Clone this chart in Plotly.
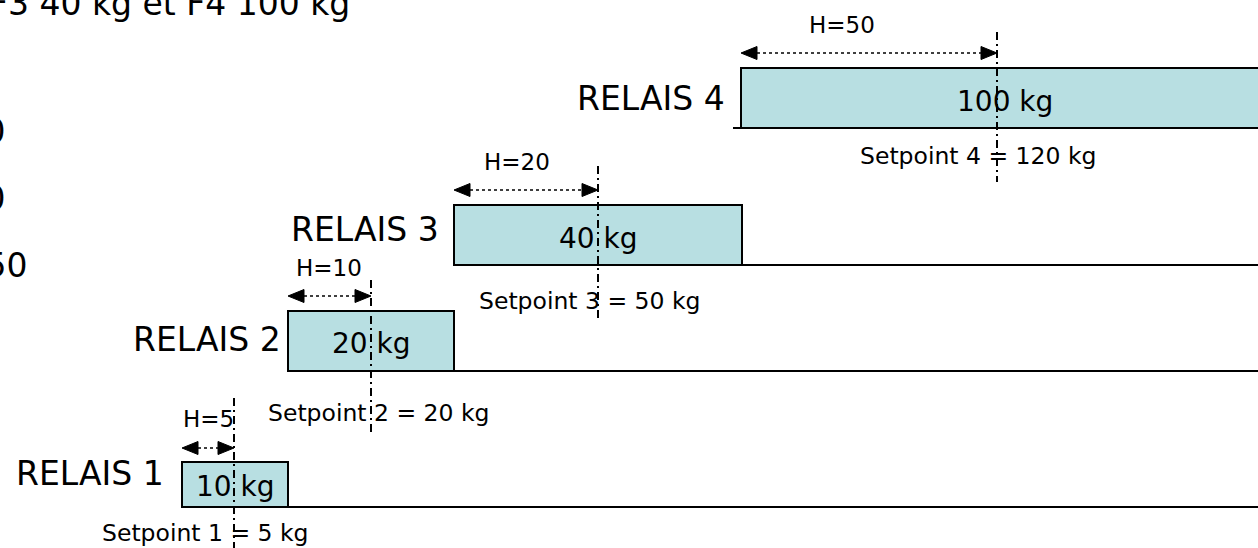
import plotly.graph_objects as go

# ---- data ----
relais = ["RELAIS 1", "RELAIS 2", "RELAIS 3", "RELAIS 4"]
charges_kg = [10, 20, 40, 100]
setpoints_kg = [5, 20, 50, 120]
hysteresis = [5, 10, 20, 50]
titre = "F3 40 kg et F4 100 kg"
notes_gauche = ["H2 = 10", "H3 = 20", "H4 = 50"]

# ---- layout positions (diagram coordinates, pixels) ----
W, H = 1258, 548
box_x0 = [182, 288, 454, 741]
box_x1 = [288, 454, 742, 1264]
box_y0 = [462, 311, 205, 68]
box_y1 = [507, 371, 265, 128]
base_x0 = [182, 288, 454, 733]
sp_x = [234, 371, 598, 997]
sp_y0 = [398, 280, 166, 32]
sp_y1 = [548, 432, 318, 182]
arrow_y = [448, 296, 190, 53]
lab_x = [166, 283, 441, 727]
lab_y = [473, 339, 229, 98]
load_x = [235, 371, 598, 1005]
load_y = [486, 343, 238, 101]
spl_x = [205, 378, 589, 978]
spl_y = [533, 413, 301, 156]
hl_x = [208, 329, 517, 842]
hl_y = [419, 268, 162, 25]

BOX_FILL = "#B8DFE2"
FONT = "DejaVu Sans"

fig = go.Figure()
shapes = []
annotations = []

for i in range(4):
    # baseline
    shapes.append(dict(type="line", x0=base_x0[i], x1=W + 5, y0=box_y1[i], y1=box_y1[i],
                       line=dict(color="black", width=2), layer="above"))
    # box
    shapes.append(dict(type="rect", x0=box_x0[i], x1=box_x1[i], y0=box_y0[i], y1=box_y1[i],
                       fillcolor=BOX_FILL, line=dict(color="black", width=2), layer="below"))
    # setpoint dash-dot line
    shapes.append(dict(type="line", x0=sp_x[i], x1=sp_x[i], y0=sp_y0[i], y1=sp_y1[i],
                       line=dict(color="black", width=2, dash="8px,4px,2px,4px"), layer="above"))
    # hysteresis arrow: dotted line + triangular heads
    L, R, y = box_x0[i], sp_x[i], arrow_y[i]
    hw, hh = 16, 6.5
    shapes.append(dict(type="line", x0=L + hw, x1=R - hw, y0=y, y1=y,
                       line=dict(color="black", width=1.5, dash="dot"), layer="above"))
    shapes.append(dict(type="path", path=f"M {L},{y} L {L+hw},{y-hh} L {L+hw},{y+hh} Z",
                       fillcolor="black", line=dict(color="black", width=1), layer="above"))
    shapes.append(dict(type="path", path=f"M {R},{y} L {R-hw},{y-hh} L {R-hw},{y+hh} Z",
                       fillcolor="black", line=dict(color="black", width=1), layer="above"))

    annotations.append(dict(x=lab_x[i], y=lab_y[i], text=relais[i], showarrow=False,
                            xanchor="right", yanchor="middle",
                            font=dict(family=FONT, size=33, color="black")))
    annotations.append(dict(x=load_x[i], y=load_y[i], text=f"{charges_kg[i]} kg", showarrow=False,
                            xanchor="center", yanchor="middle",
                            font=dict(family=FONT, size=28, color="black")))
    annotations.append(dict(x=spl_x[i], y=spl_y[i], text=f"Setpoint {i+1} = {setpoints_kg[i]} kg",
                            showarrow=False, xanchor="center", yanchor="middle",
                            font=dict(family=FONT, size=23.5, color="black")))
    annotations.append(dict(x=hl_x[i], y=hl_y[i], text=f"H={hysteresis[i]}", showarrow=False,
                            xanchor="center", yanchor="middle",
                            font=dict(family=FONT, size=23, color="black")))

# partially visible texts on the left / top
annotations.append(dict(x=352, y=3, text=titre, showarrow=False, xanchor="right", yanchor="middle",
                        font=dict(family=FONT, size=33, color="black")))
for t, xr, yc in zip(notes_gauche, [7, 7, 29], [131, 198, 265]):
    annotations.append(dict(x=xr, y=yc, text=t, showarrow=False, xanchor="right", yanchor="middle",
                            font=dict(family=FONT, size=33, color="black")))

fig.update_layout(
    width=W, height=H,
    margin=dict(l=0, r=0, t=0, b=0),
    paper_bgcolor="white", plot_bgcolor="white",
    xaxis=dict(range=[0, W], visible=False, fixedrange=True),
    yaxis=dict(range=[H, 0], visible=False, fixedrange=True),
    shapes=shapes, annotations=annotations, showlegend=False,
)

fig.write_html(
    "out.html",
    config={"displayModeBar": False},
    post_script="document.body.style.margin='0';document.body.style.overflow='hidden';",
)
